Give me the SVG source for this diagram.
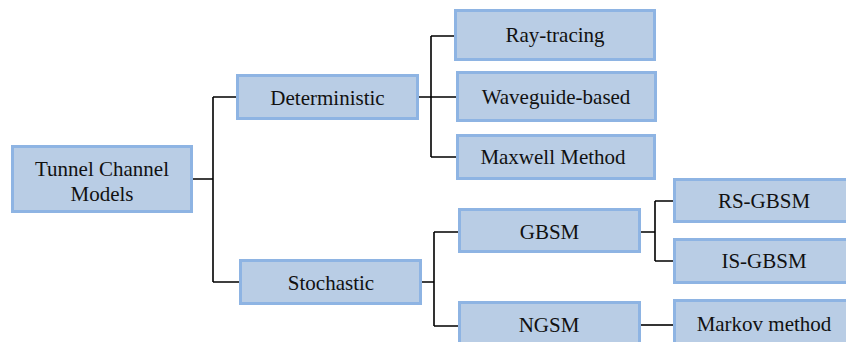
<svg xmlns="http://www.w3.org/2000/svg" width="846" height="342" viewBox="0 0 846 342">
<style>
.box{fill:#B9CDE5;stroke:#8EB4E3;stroke-width:3}
.con{fill:none;stroke:#000;stroke-width:1.6}
</style>
<rect width="846" height="342" fill="#fff"/>
<g id="connectors" class="con">
<path d="M193,179 H213 M213,97 V282 M213,97 H236 M213,282 H239"/>
<path d="M419,97 H456 M431,36 V157 M431,36 H454 M431,157 H456"/>
<path d="M422,282 H434 M434,232 V326 M434,232 H458 M434,326 H458"/>
<path d="M641,232 H655 M655,201 V261 M655,201 H673 M655,261 H673"/>
<path d="M641,325 H673"/>
</g>
<g font-family="Liberation Serif, Times New Roman, serif" font-size="21" fill="#111" text-anchor="middle">
<g id="tunnel"><rect class="box" x="12.5" y="146.5" width="179" height="65"/><text x="102" y="176">Tunnel Channel</text><text x="102" y="201">Models</text></g>
<g id="deterministic"><rect class="box" x="237.5" y="75.5" width="180" height="43"/><text x="327.5" y="104.5">Deterministic</text></g>
<g id="raytracing"><rect class="box" x="455.5" y="10.5" width="199" height="49"/><text x="555" y="42">Ray-tracing</text></g>
<g id="waveguide"><rect class="box" x="457.5" y="72.5" width="198" height="48"/><text x="556" y="104">Waveguide-based</text></g>
<g id="maxwell"><rect class="box" x="457.5" y="135.5" width="197" height="43"/><text x="553" y="164">Maxwell Method</text></g>
<g id="stochastic"><rect class="box" x="240.5" y="260.5" width="180" height="43"/><text x="331" y="289.5">Stochastic</text></g>
<g id="gbsm"><rect class="box" x="459.5" y="209.5" width="180" height="42"/><text x="549.5" y="238.5">GBSM</text></g>
<g id="ngsm"><rect class="box" x="459.5" y="302.5" width="180" height="50"/><text x="549" y="332">NGSM</text></g>
<g id="rsgbsm"><rect class="box" x="674.5" y="179.5" width="180" height="42"/><text x="764" y="208">RS-GBSM</text></g>
<g id="isgbsm"><rect class="box" x="674.5" y="239.5" width="180" height="43"/><text x="764" y="268">IS-GBSM</text></g>
<g id="markov"><rect class="box" x="674.5" y="300.5" width="180" height="50"/><text x="764" y="331">Markov method</text></g>
</g>
</svg>
